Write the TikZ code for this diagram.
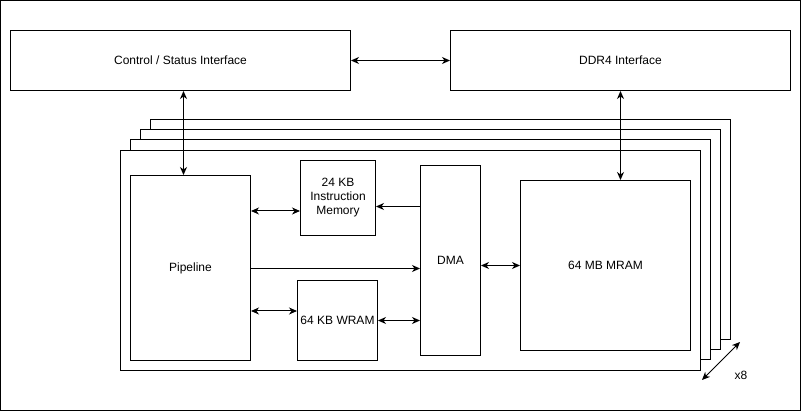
\documentclass[tikz,border=0pt]{standalone}
\usepackage{fontspec}
\setmainfont{Liberation Sans}
\usetikzlibrary{arrows.meta}
\begin{document}
\begin{tikzpicture}[x=1pt,y=-1pt,
  every node/.style={font=\fontsize{12}{14}\selectfont},
  box/.style={draw=black, line width=1pt, fill=white, inner sep=0pt, align=center, anchor=north west},
  layer/.style={draw=black, line width=1pt, fill=white},
  arr/.style={line width=1pt, -{Stealth[length=8pt,width=7pt,inset=2.5pt]}},
  barr/.style={line width=1pt, {Stealth[length=8pt,width=7pt,inset=2.5pt]}-{Stealth[length=8pt,width=7pt,inset=2.5pt]}}]
\useasboundingbox (0,0) rectangle (801,411);
\draw[line width=1pt] (0.5,0.5) rectangle (800.5,410.5);
% interfaces
\node[box, minimum width=340pt, minimum height=60pt] (ctrl) at (10,30) {Control / Status Interface};
\node[box, minimum width=340pt, minimum height=60pt] (ddr) at (450,30) {DDR4 Interface};
% stacked layers
\draw[layer] (150,120) rectangle (730,340);
\draw[layer] (140,130) rectangle (720,350);
\draw[layer] (130,140) rectangle (710,360);
\node[box, minimum width=580pt, minimum height=220pt] (front) at (120,150) {};
% inner blocks
\node[box, minimum width=120pt, minimum height=185pt] (pipe) at (130,175) {Pipeline};
\node[box, minimum width=75pt, minimum height=75pt] (imem) at (300,160) {24 KB\\Instruction\\Memory};
\node[box, minimum width=60pt, minimum height=190pt] (dma) at (420,165) {DMA};
\node[box, minimum width=170pt, minimum height=170pt] (mram) at (520,180) {64 MB MRAM};
\node[box, minimum width=80pt, minimum height=80pt] (wram) at (297,280) {64 KB WRAM};
% connectors
\draw[barr] (ctrl.east) -- (ddr.west);
\draw[barr] (ctrl.south) ++(3,0) coordinate (c1) -- (c1 |- pipe.north);
\draw[barr] (ddr.south) ++(0,0) coordinate (d1) -- (d1 |- mram.north);
\draw[barr] (pipe.east) ++(0,-57) coordinate (p1) -- (p1 -| imem.west);
\draw[arr] (dma.west) ++(0,-54) coordinate (m1) -- (m1 -| imem.east);
\draw[arr] (pipe.east) ++(0,0.5) coordinate (p2) -- (p2 -| dma.west);
\draw[barr] (pipe.east) ++(0,43) coordinate (p3) -- (p3 -| wram.west);
\draw[barr] (wram.east) ++(0,0) coordinate (w1) -- (w1 -| dma.west);
\draw[barr] (dma.east) ++(0,5) coordinate (q1) -- (q1 -| mram.west);
\coordinate (x8a) at (702,380);
\coordinate (x8b) at (740,342);
\draw[barr] (x8a) -- (x8b);
\node (x8) at (741,375) {x8};
\end{tikzpicture}
\end{document}
